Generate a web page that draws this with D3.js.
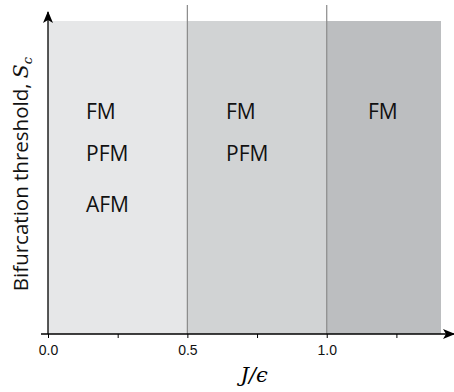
<!DOCTYPE html>
<html lang="en">
<head>
  <meta charset="UTF-8" />
  <title>Bifurcation threshold phases</title>
  <script src="https://d3js.org/d3.v7.min.js"></script>
  <style>
    body { margin: 0; padding: 0; background: #fff; }
    svg { display: block; }
    .phase { font-family: 'Open Sans', 'Noto Sans', sans-serif; font-size: 21px; fill: #111; }
    .tick text { font-family: 'Liberation Sans', Arial, sans-serif; font-size: 14px; fill: #111; }
  </style>
</head>
<body>
  <div id="chart"></div>
  <script>
    // regions along J/epsilon
    const regionStart = [0, 0.5, 1.0];
    const regionEnd = [0.5, 1.0, 1.41];
    const regionFill = ["#e6e7e8", "#d1d3d4", "#bcbec0"];
    // phases present in each region
    const regionLabels = [["FM", "PFM", "AFM"], ["FM", "PFM"], ["FM"]];
    const majorTicks = [0, 0.5, 1.0];
    const minorTicks = [0.25, 0.75, 1.25];

    const width = 454, height = 392;
    const margin = { left: 48, bottom: 58, top: 21 };
    const x = d3.scaleLinear().domain([0, 1.41]).range([margin.left, 441]);
    const y = d3.scaleLinear().domain([0, 1]).range([height - margin.bottom, margin.top]);

    const svg = d3.select("#chart").append("svg")
      .attr("width", width).attr("height", height);

    // shaded regions
    svg.selectAll("rect.region")
      .data(regionStart)
      .enter().append("rect")
      .attr("class", "region")
      .attr("x", d => x(d))
      .attr("y", y(1))
      .attr("width", (d, i) => x(regionEnd[i]) - x(d))
      .attr("height", y(0) - y(1))
      .attr("fill", (d, i) => regionFill[i]);

    // boundary lines between regions
    svg.selectAll("line.boundary")
      .data(regionStart.slice(1))
      .enter().append("line")
      .attr("x1", d => x(d)).attr("x2", d => x(d))
      .attr("y1", 5).attr("y2", y(0))
      .attr("stroke", "#8a8a8a").attr("stroke-width", 1.2);

    // phase labels
    const lineY = [119, 161, 212];
    const labelX = [86, 226, 368];
    regionLabels.forEach((labels, i) => {
      svg.selectAll(null)
        .data(labels)
        .enter().append("text")
        .attr("class", "phase")
        .attr("x", labelX[i])
        .attr("y", (d, j) => lineY[j])
        .text(d => d);
    });

    // arrowheads
    const defs = svg.append("defs");
    defs.append("marker")
      .attr("id", "arrow")
      .attr("viewBox", "0 0 12 10")
      .attr("refX", 11).attr("refY", 5)
      .attr("markerWidth", 12).attr("markerHeight", 10)
      .attr("markerUnits", "userSpaceOnUse")
      .attr("orient", "auto")
      .append("path")
      .attr("d", "M0,0 L12,5 L0,10 L3,5 Z")
      .attr("fill", "#000");

    // x axis
    const xAxis = svg.append("g")
      .attr("transform", `translate(0,${y(0)})`)
      .call(d3.axisBottom(x).tickValues(majorTicks).tickSize(4)
        .tickFormat(d3.format(".1f")));
    xAxis.select(".domain").remove();
    xAxis.selectAll(".tick text").attr("dy", "1.0em");
    svg.append("g")
      .attr("transform", `translate(0,${y(0)})`)
      .call(d3.axisBottom(x).tickValues(minorTicks).tickSize(4).tickFormat(""))
      .select(".domain").remove();

    svg.append("line")
      .attr("x1", 41).attr("x2", 454)
      .attr("y1", y(0)).attr("y2", y(0))
      .attr("stroke", "#000").attr("stroke-width", 1.3)
      .attr("marker-end", "url(#arrow)");

    // y axis
    svg.append("line")
      .attr("x1", x(0)).attr("x2", x(0))
      .attr("y1", y(0)).attr("y2", 12)
      .attr("stroke", "#000").attr("stroke-width", 1.3)
      .attr("marker-end", "url(#arrow)");

    // axis titles
    svg.append("text")
      .attr("x", x(0.74)).attr("y", 382)
      .attr("text-anchor", "middle")
      .style("font-family", "'DejaVu Serif', 'Liberation Serif', serif")
      .style("font-style", "italic")
      .style("font-size", "21px")
      .text("J/ϵ");

    const yTitle = svg.append("text")
      .attr("transform", "translate(28,174) rotate(-90)")
      .attr("text-anchor", "middle")
      .style("font-family", "'Open Sans', 'Noto Sans', sans-serif")
      .style("font-size", "20.5px")
      .attr("fill", "#111");
    yTitle.append("tspan").text("Bifurcation threshold, ");
    yTitle.append("tspan")
      .style("font-family", "'DejaVu Serif', 'Liberation Serif', serif")
      .style("font-style", "italic").text("S");
    yTitle.append("tspan")
      .style("font-family", "'DejaVu Serif', 'Liberation Serif', serif")
      .style("font-style", "italic").style("font-size", "13px")
      .attr("dy", 4).text("c");
  </script>
</body>
</html>
